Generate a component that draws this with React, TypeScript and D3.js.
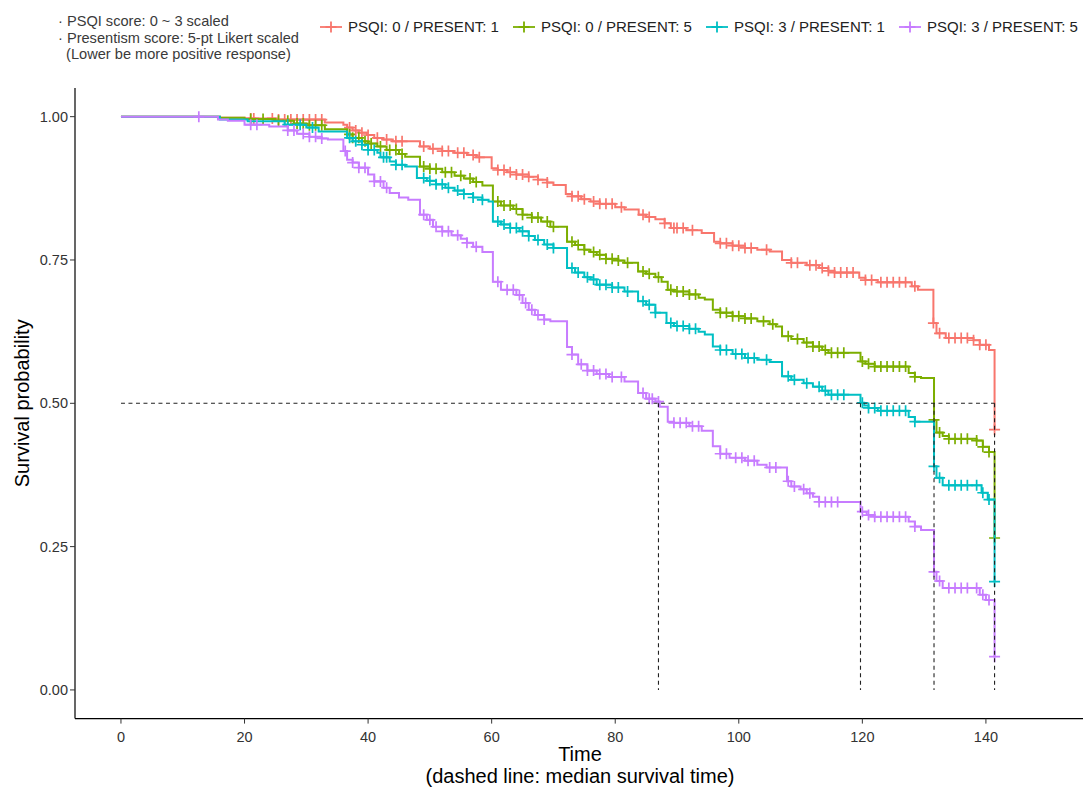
import * as d3 from 'd3'

// ---- data ----
const GROUPS = ['PSQI: 0 / PRESENT: 1', 'PSQI: 0 / PRESENT: 5', 'PSQI: 3 / PRESENT: 1', 'PSQI: 3 / PRESENT: 5']
const COLORS = ['#F8766D', '#7CAE00', '#00BFC4', '#C77CFF']

const RED_T = [0, 16, 20, 25, 33, 36, 36.6, 37.5, 38.5, 39.8, 41, 42.5, 44, 48.4, 50, 52, 54, 56, 57.5, 60, 61, 62.5, 64, 66, 67.5, 69, 70, 72, 73, 74.5, 76, 77.5, 80, 81.5, 83.8, 85, 86.5, 88, 89, 91.5, 94, 96, 97, 99, 101, 103, 105, 107, 108.5, 111, 113, 114.5, 115.5, 119.5, 120.5, 122.5, 128, 129, 131.5, 132, 133.5, 138, 139, 140.5, 141.4]
const RED_S = [1, 0.998, 0.997, 0.995, 0.99, 0.986, 0.981, 0.976, 0.972, 0.968, 0.963, 0.96, 0.957, 0.948, 0.944, 0.94, 0.937, 0.933, 0.929, 0.91, 0.907, 0.903, 0.899, 0.895, 0.89, 0.885, 0.881, 0.865, 0.861, 0.856, 0.852, 0.848, 0.842, 0.838, 0.829, 0.825, 0.821, 0.814, 0.806, 0.802, 0.797, 0.782, 0.779, 0.775, 0.771, 0.768, 0.765, 0.75, 0.745, 0.741, 0.736, 0.731, 0.728, 0.719, 0.715, 0.711, 0.704, 0.698, 0.64, 0.622, 0.614, 0.61, 0.602, 0.593, 0.454]
const RED_C = [21, 21.5, 24.5, 25.5, 26.5, 27.5, 28.5, 29.5, 30.5, 31.5, 32.5, 37, 38, 39, 40, 41.5, 43, 44.5, 45.5, 49, 50.5, 52, 53, 54.5, 55.5, 57, 58, 61, 62, 63, 64, 65, 66, 67.5, 69, 73, 74, 75, 76.5, 77.5, 78.5, 79.5, 81, 84.5, 85.5, 88, 89.5, 90, 91, 92.5, 97, 98, 99, 100, 101, 102, 104.5, 108.5, 109.5, 111.5, 112.5, 113.5, 114.5, 115.5, 116.5, 117.5, 118.5, 120.5, 121.5, 123, 124, 125, 126, 127, 128.5, 131.5, 132.5, 134, 135, 136, 137, 138, 139, 140, 141.4]

const GRN_T = [0, 16, 20, 25, 28, 30, 33, 36.6, 37.5, 39, 40, 41.5, 43, 45, 46, 48.4, 50, 52, 54, 55.5, 57, 58.5, 60.2, 61.5, 63.5, 65, 66.5, 68, 69.5, 72.2, 73.5, 75, 76, 77, 78.5, 80.5, 81.5, 83.7, 85, 86.5, 87.5, 88.5, 89.5, 92, 93.5, 94.5, 95.8, 97, 99, 101, 103, 105, 106, 107, 108.5, 110.5, 112, 113.5, 114.5, 119.7, 120.5, 122, 127.5, 128.5, 129.5, 131.6, 132, 133, 134, 138.5, 139.5, 140.5, 141.4]
const GRN_S = [1, 0.998, 0.996, 0.993, 0.988, 0.985, 0.978, 0.969, 0.963, 0.957, 0.953, 0.948, 0.942, 0.935, 0.93, 0.913, 0.909, 0.903, 0.897, 0.892, 0.886, 0.88, 0.852, 0.845, 0.839, 0.829, 0.824, 0.817, 0.808, 0.782, 0.776, 0.768, 0.764, 0.759, 0.752, 0.749, 0.745, 0.73, 0.726, 0.72, 0.712, 0.698, 0.695, 0.69, 0.684, 0.681, 0.663, 0.658, 0.652, 0.648, 0.643, 0.638, 0.634, 0.617, 0.612, 0.606, 0.599, 0.593, 0.588, 0.573, 0.569, 0.564, 0.553, 0.546, 0.544, 0.471, 0.449, 0.443, 0.438, 0.435, 0.424, 0.415, 0.265]
const GRN_C = [21, 23, 25.5, 27, 28.5, 29.5, 30.5, 31.5, 32.5, 37, 37.5, 38.5, 39.5, 40.5, 42, 43.5, 44.5, 45.5, 49, 50, 51, 52.5, 53.5, 55, 56.5, 57.5, 61, 62, 63, 64, 65, 66.5, 67.5, 69, 70, 73, 74, 75, 76.5, 77.5, 78.5, 79.5, 80.5, 82, 84.5, 85.5, 87, 89, 90, 91, 92, 93, 97, 98, 99, 100, 101, 102, 104, 105.5, 108, 109.5, 111, 112, 113, 114, 115, 116, 117, 120, 121, 122, 123, 124, 125, 126, 127, 128.5, 131.6, 132.5, 134, 135, 136, 137, 138.5, 139.5, 140.5, 141.4]

const CYN_T = [0, 16, 20.5, 26.5, 30, 32, 36.6, 37.5, 39, 40, 41.5, 42, 43.5, 44.5, 46, 47.9, 49.5, 51, 52.5, 54, 55.5, 57, 58.5, 59.5, 60.2, 61.5, 63, 64.5, 66, 67, 68.5, 70, 72.2, 73.5, 75, 76, 77, 79.5, 81.5, 83.7, 85, 86.5, 88.3, 89.5, 92, 93.5, 94.5, 95.8, 97, 99, 101, 103, 105, 107, 108.5, 110.5, 112, 113.5, 114.5, 119.7, 120.3, 121, 122.5, 127.5, 128.5, 131.6, 132, 133, 139.3, 140.3, 141.4]
const CYN_S = [1, 0.995, 0.992, 0.986, 0.981, 0.974, 0.963, 0.957, 0.951, 0.942, 0.937, 0.929, 0.922, 0.916, 0.913, 0.893, 0.888, 0.882, 0.876, 0.871, 0.865, 0.859, 0.855, 0.852, 0.817, 0.812, 0.806, 0.8, 0.792, 0.785, 0.777, 0.771, 0.736, 0.728, 0.72, 0.716, 0.707, 0.702, 0.695, 0.678, 0.672, 0.658, 0.64, 0.635, 0.63, 0.625, 0.62, 0.599, 0.593, 0.586, 0.579, 0.576, 0.572, 0.547, 0.541, 0.535, 0.529, 0.522, 0.515, 0.501, 0.496, 0.492, 0.487, 0.476, 0.468, 0.39, 0.37, 0.357, 0.344, 0.332, 0.189]
const CYN_C = [27, 29, 31, 37, 38, 39, 40, 41, 42.5, 43, 44.5, 45.5, 49, 50, 51, 52, 53, 54.5, 55.5, 57, 58.5, 61, 62, 63, 64, 65, 66, 67.5, 69, 70, 73, 74, 75.5, 76.5, 77.5, 78.5, 79.5, 80.5, 82, 84.5, 85.5, 86.5, 89, 90, 91, 92, 93, 97, 98, 99.5, 100.5, 101.5, 102.5, 104.5, 108, 109, 111, 113, 114, 115, 116, 117, 120, 121, 122, 123, 124, 125, 126, 127, 128.5, 131.6, 132.5, 134, 135, 136, 137, 138.5, 139.5, 140.5, 141.4]

const PUR_T = [0, 15.7, 17.3, 20, 24, 27, 28.5, 30.5, 32.5, 33.5, 36, 36.6, 37.5, 38.5, 40, 41, 42.5, 43.5, 45, 46.5, 48.4, 49.5, 50.5, 52, 53.5, 55, 56, 57, 58.5, 60.2, 61.5, 64, 65, 66, 67, 68.5, 69.5, 72.2, 73, 74, 75.5, 77, 79, 81.5, 83.7, 85, 86.5, 87.2, 88.5, 89.5, 92, 94, 95.8, 97, 98.5, 101, 103, 104.5, 107.8, 108.5, 110, 111, 112, 113, 119.7, 120.7, 122, 127.5, 128.5, 129.5, 131.6, 132, 133, 139, 140, 141.4]
const PUR_S = [1, 0.995, 0.993, 0.986, 0.983, 0.976, 0.97, 0.965, 0.962, 0.96, 0.94, 0.925, 0.92, 0.911, 0.899, 0.887, 0.876, 0.867, 0.859, 0.855, 0.829, 0.82, 0.808, 0.8, 0.793, 0.787, 0.78, 0.773, 0.764, 0.712, 0.698, 0.689, 0.675, 0.663, 0.654, 0.646, 0.643, 0.598, 0.585, 0.568, 0.557, 0.551, 0.546, 0.538, 0.518, 0.508, 0.503, 0.494, 0.468, 0.466, 0.46, 0.452, 0.425, 0.412, 0.405, 0.4, 0.393, 0.388, 0.364, 0.355, 0.35, 0.343, 0.337, 0.328, 0.311, 0.305, 0.302, 0.294, 0.285, 0.279, 0.206, 0.19, 0.178, 0.166, 0.157, 0.058]
const PUR_C = [12.6, 21, 22, 27, 28, 29.5, 30.5, 31.5, 32.5, 36.3, 37.5, 38.5, 39.5, 41, 42, 43, 49, 50, 51, 52, 53, 54.5, 56, 57.5, 61, 62.5, 63.5, 64.5, 65.5, 66.5, 67.5, 68.5, 73, 74.5, 75.5, 76.5, 77.5, 78.5, 79.5, 81, 84.5, 85.5, 86, 87, 89.5, 90.5, 91.5, 92.5, 93.5, 97, 98, 99.5, 100.5, 101.5, 102.5, 105, 106, 108, 109, 110.5, 111.5, 113, 114, 115, 116, 120, 121, 122, 123, 124, 125, 126, 127, 128.5, 131.6, 132.5, 134, 135, 136, 137, 138.5, 139.5, 140.5, 141.4]

const MEDIANS = [87, 119.7, 131.6, 141.4]
const X_TICKS = [0, 20, 40, 60, 80, 100, 120, 140]
const Y_TICKS = [0, 0.25, 0.5, 0.75, 1]
const TITLE_LINES = ['· PSQI score: 0 ~ 3 scaled', '· Presentism score: 5-pt Likert scaled', '  (Lower be more positive response)']

const SERIES = [
  { t: RED_T, s: RED_S, c: RED_C },
  { t: GRN_T, s: GRN_S, c: GRN_C },
  { t: CYN_T, s: CYN_S, c: CYN_C },
  { t: PUR_T, s: PUR_S, c: PUR_C },
]

const W = 1083
const H = 789
const FONT = 'Liberation Sans, Arial, sans-serif'

const x = d3.scaleLinear().domain([-7.44, 156.2]).range([75, 1086])
const y = d3.scaleLinear().domain([-0.05, 1.05]).range([718.6, 88])

function survAt(t: number[], s: number[], time: number) {
  const i = d3.bisectRight(t, time) - 1
  return s[Math.max(0, i)]
}

const stepLine = d3.line<[number, number]>()
  .x(d => x(d[0]))
  .y(d => y(d[1]))
  .curve(d3.curveStepAfter)

const cross = 'M-5.5,0H5.5M0,-5.5V5.5'

export default function App() {
  const lastT = d3.max(MEDIANS) as number
  return (
    <svg width={W} height={H} style={{ position: 'absolute', left: 0, top: 0, background: '#fff' }} fontFamily={FONT}>
      {/* legend title */}
      {TITLE_LINES.map((l, i) => (
        <text key={i} x={58} y={26 + i * 16.5} fontSize={14.6} fill="#3a3a3a" style={{ whiteSpace: 'pre' }}>{l}</text>
      ))}
      {/* legend keys */}
      {GROUPS.map((g, i) => {
        const cx = 331 + i * 193
        return (
          <g key={g} transform={`translate(${cx},27)`}>
            <line x1={-11} x2={11} y1={0} y2={0} stroke={COLORS[i]} strokeWidth={1.8} />
            <path d={cross} stroke={COLORS[i]} strokeWidth={1.8} fill="none" />
            <text x={17} y={5} fontSize={15} fill="#222">{g}</text>
          </g>
        )
      })}

      {/* curves */}
      {SERIES.map((se, i) => (
        <g key={i}>
          <path d={stepLine(se.t.map((t, j) => [t, se.s[j]] as [number, number])) || ''} fill="none" stroke={COLORS[i]} strokeWidth={2} />
          {se.c.map((ct, j) => (
            <path key={j} d={cross} transform={`translate(${x(ct)},${y(survAt(se.t, se.s, ct))})`} stroke={COLORS[i]} strokeWidth={1.7} fill="none" />
          ))}
        </g>
      ))}

      {/* median lines */}
      <g stroke="#222" strokeWidth={1.1} strokeDasharray="4,3.5" fill="none">
        <line x1={x(0)} x2={x(lastT)} y1={y(0.5)} y2={y(0.5)} />
        {MEDIANS.map(m => (
          <line key={m} x1={x(m)} x2={x(m)} y1={y(0.5)} y2={y(0)} />
        ))}
      </g>

      {/* axes */}
      <g fontSize={14.5} fill="#333">
        <line x1={75} x2={75} y1={88} y2={718.6} stroke="#000" strokeWidth={1.2} />
        <line x1={75} x2={W} y1={718.6} y2={718.6} stroke="#000" strokeWidth={1.2} />
        {Y_TICKS.map(v => (
          <g key={v} transform={`translate(75,${y(v)})`}>
            <line x1={-5} x2={0} stroke="#333" />
            <text x={-7} dy="0.35em" textAnchor="end" fill="#333">{v.toFixed(2)}</text>
          </g>
        ))}
        {X_TICKS.map(v => (
          <g key={v} transform={`translate(${x(v)},718.6)`}>
            <line y1={0} y2={5} stroke="#333" />
            <text y={23} textAnchor="middle" fill="#333">{v}</text>
          </g>
        ))}
      </g>
      <text x={580} y={761} textAnchor="middle" fontSize={20} fill="#000">Time</text>
      <text x={580} y={783} textAnchor="middle" fontSize={20} fill="#000">(dashed line: median survival time)</text>
      <text transform={`translate(29,${y(0.5)}) rotate(-90)`} textAnchor="middle" fontSize={20} fill="#000">Survival probability</text>
    </svg>
  )
}
